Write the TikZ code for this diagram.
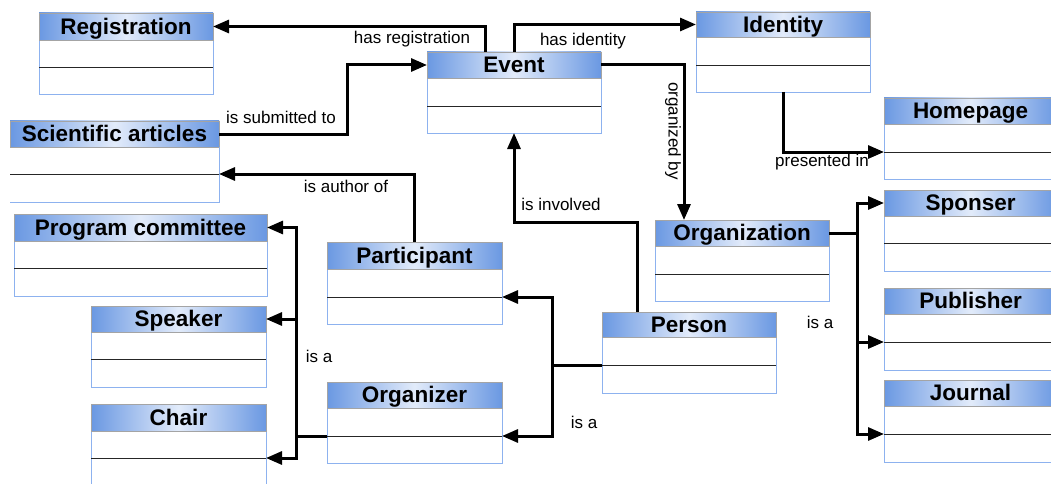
\documentclass[tikz,border=0pt]{standalone}
\usepackage{fontspec}
\setmainfont{Liberation Sans}
\usetikzlibrary{arrows.meta,calc}
\definecolor{hblue}{HTML}{6A98E2}
\definecolor{hlight}{HTML}{E2EBFA}
\definecolor{hborder}{HTML}{A4A4A4}
\definecolor{bborder}{HTML}{8DB2EF}
\tikzset{
 hdr/.style={draw=hborder, line width=0.9pt, left color=hblue, right color=hblue, middle color=hlight, inner sep=0pt, outer sep=0pt, anchor=north west, text height=16pt, text depth=0.5pt, font=\fontsize{22.5}{24}\selectfont\bfseries},
 bodyb/.style={draw=bborder, line width=0.9pt, fill=white, inner sep=0pt, outer sep=0pt, anchor=north west},
 midline/.style={draw=black!85, line width=0.9pt},
 conn/.style={draw=black, line width=3pt, -{Triangle[length=16pt,width=13pt]}, line join=miter},
 plain/.style={draw=black, line width=3pt},
 lbl/.style={font=\fontsize{17}{20}\selectfont, inner sep=0pt}
}
\newcommand\umlclass[9]{%
 \node[bodyb, minimum width={#3pt-#2pt}, minimum height={#7pt-#5pt}, #9] (#1-b) at (#2,#5) {};
 \node[hdr, minimum width={#3pt-#2pt}, minimum height={#5pt-#4pt}] (#1) at (#2,#4) {#8};
 \coordinate (#1-mw) at (#2,#6);
 \coordinate (#1-me) at (#3,#6);
 \draw[midline] (#1-mw) -- (#1-me);
}
\begin{document}
\begin{tikzpicture}[x=1pt,y=-1pt]
\path[use as bounding box] (0,0) rectangle (1051,484);
\clip (0,0) rectangle (1051,484);
% classes
\umlclass{reg}{39}{213}{13}{40}{67}{94}{Registration}{}
\umlclass{sci}{10}{219}{121}{147}{174}{202}{Scientific articles}{draw=none}
\draw[draw=bborder, line width=0.9pt] (sci-b.north east) -- (sci-b.south east) -- (sci-b.south west);
\umlclass{ev}{427}{601}{52}{78}{106}{133}{Event}{}
\umlclass{idn}{696}{870}{12}{37}{65}{92}{Identity}{}
\umlclass{home}{884}{1057}{98}{124}{152}{179}{Homepage}{}
\umlclass{spon}{884}{1057}{190}{216}{243}{271}{Sponser}{}
\umlclass{org}{655}{829}{220}{246}{274}{301}{Organization}{}
\umlclass{per}{602}{776}{312}{337}{365}{393}{Person}{}
\umlclass{pub}{884}{1057}{288}{314}{342}{370}{Publisher}{}
\umlclass{jour}{884}{1057}{380}{406}{434}{462}{Journal}{}
\umlclass{par}{327}{502}{242}{269}{297}{324}{Participant}{}
\umlclass{orgz}{327}{502}{382}{408}{436}{463}{Organizer}{}
\umlclass{pc}{14}{267}{214}{241}{268}{296}{Program committee}{}
\umlclass{spk}{91}{266}{306}{332}{359}{387}{Speaker}{}
\umlclass{chair}{91}{266}{404}{431}{458}{490}{Chair}{}
% connectors
\draw[conn] ([xshift=-29pt]ev.north) |- (reg.east);
\draw[conn] (sci.east) -- ++(128,0) |- (ev.west);
\draw[conn] (ev.north) |- (idn.west);
\draw[conn] (ev.east) -| ([xshift=-58pt]org.north);
\draw[conn] (idn-b.south) |- (home-mw);
\draw[conn] (par.north) |- (sci-me);
\draw[conn] ([xshift=-52pt]per.north) -- ++(0,-90) -| (ev-b.south);
\draw[plain] (per-mw) -- ++(-50,0) coordinate (j1);
\draw[conn] (j1) |- (par-me);
\draw[conn] (j1) |- (orgz-me);
\draw[plain] (orgz-mw) -- ++(-31,0) coordinate (j2);
\draw[conn] (j2) |- (pc.east);
\draw[conn] (j2) |- (spk.east);
\draw[conn] (j2) |- (chair-me);
\draw[plain] (org.east) -- ++(28,0) coordinate (j3);
\draw[conn] (j3) |- (spon.west);
\draw[conn] (j3) |- (pub-mw);
\draw[conn] (j3) |- (jour-mw);
% labels
\node[lbl] (l1) at (412,39) {has registration};
\node[lbl] (l2) at (281,117) {is submitted to};
\node[lbl] (l3) at (583,41) {has identity};
\node[lbl, rotate=-90] (l4) at (673,131) {organized by};
\node[lbl] (l5) at (822,162) {presented in};
\node[lbl] (l6) at (346,186) {is author of};
\node[lbl] (l7) at (561,204) {is involved};
\node[lbl] (l8) at (319,356) {is a};
\node[lbl] (l9) at (584,422) {is a};
\node[lbl] (l10) at (820,322) {is a};
\end{tikzpicture}
\end{document}
